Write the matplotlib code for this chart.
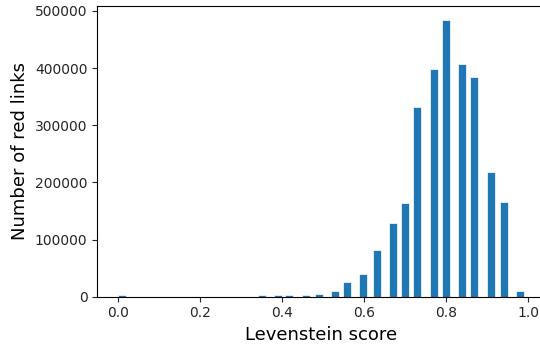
import matplotlib
matplotlib.use("Agg")
import matplotlib.pyplot as plt

# left edge of each bar (Levenstein score) and number of red links
score_left = [0.000, 0.341, 0.380, 0.408, 0.448, 0.481, 0.520, 0.549, 0.588, 0.621,
              0.660, 0.689, 0.719, 0.761, 0.790, 0.829, 0.858, 0.900, 0.930, 0.970]
counts = [3000, 3000, 3000, 3000, 3000, 4700, 9300, 25700, 39700, 82300,
          128900, 163900, 332600, 397900, 484200, 407200, 383900, 217600, 166300, 9300]

fig = plt.figure(figsize=(5.4, 3.46), dpi=100)
ax = fig.add_axes([0.180, 0.1425, 0.829, 0.841])
ax.bar(score_left, counts, width=0.0195, align="edge", color="#1f77b4",
       edgecolor="white", linewidth=0.5)
ax.set_xlim(-0.0505, 1.04)
ax.set_ylim(0, 509000)
ax.set_xticks([0.0, 0.2, 0.4, 0.6, 0.8, 1.0])
ax.set_yticks([0, 100000, 200000, 300000, 400000, 500000])
ax.tick_params(labelsize=10, colors="#262626")
ax.set_xlabel("Levenstein score", fontsize=13)
ax.set_ylabel("Number of red links", fontsize=13)

fig.savefig("out.png", dpi=100)
